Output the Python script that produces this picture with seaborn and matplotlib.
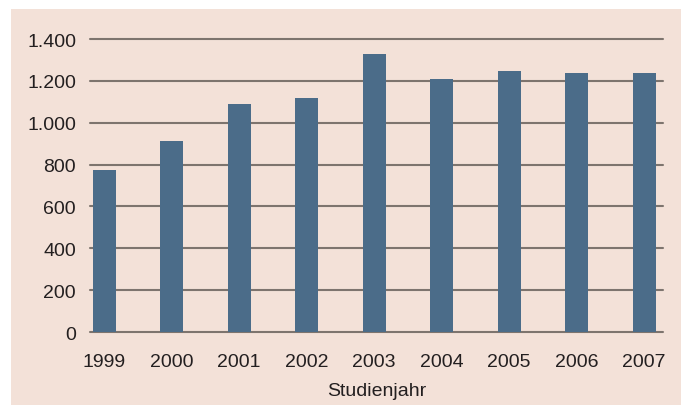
import matplotlib
matplotlib.use('Agg')
import matplotlib.pyplot as plt
import matplotlib.ticker as mticker
from matplotlib.patches import Rectangle
import seaborn as sns
import pandas as pd

# Studienjahr and number of students
years = ['1999', '2000', '2001', '2002', '2003', '2004', '2005', '2006', '2007']
counts = [775, 915, 1090, 1120, 1326, 1210, 1247, 1237, 1237]
y_ticks = [0, 200, 400, 600, 800, 1000, 1200, 1400]

bar_color = '#4b6c89'
panel_color = '#f3e1d8'
grid_color = '#7d746e'
text_color = '#231f20'


def main():
    sns.set_style('white')
    plt.rcParams['font.family'] = ['Liberation Sans', 'DejaVu Sans']

    df = pd.DataFrame({'Studienjahr': years, 'Anzahl': counts})

    fig = plt.figure(figsize=(6.81, 4.06), dpi=100, facecolor='white')
    # peach panel behind the whole chart (negative zorder so axes draw on top)
    fig.patches.append(Rectangle((11 / 681, 0), 1, 1 - 10 / 406,
                                 transform=fig.transFigure, facecolor=panel_color,
                                 edgecolor='none', zorder=-1))

    ax = fig.add_axes([90 / 681, 1 - 333 / 406, (663 - 90) / 681, (333 - 40) / 406])
    ax.set_facecolor('none')

    sns.barplot(data=df, x='Studienjahr', y='Anzahl', color=bar_color,
                width=0.34, saturation=1, linewidth=0, ax=ax, zorder=3)

    ax.set_ylim(0, 1400)
    ax.set_xlim(-0.21, 8.28)
    ax.set_yticks(y_ticks)
    ax.yaxis.set_major_formatter(mticker.FuncFormatter(
        lambda v, pos: f'{int(v):,}'.replace(',', '.')))
    ax.yaxis.grid(True, color=grid_color, linewidth=1.5, zorder=0)
    ax.set_axisbelow(True)
    # keep the full thickness of the lines at 0 and 1.400
    for line in ax.get_ygridlines():
        line.set_clip_on(False)

    for side in ['top', 'right', 'left', 'bottom']:
        ax.spines[side].set_visible(False)

    ax.tick_params(axis='y', length=0, pad=10, labelsize=14, labelcolor=text_color)
    ax.tick_params(axis='x', length=0, pad=15, labelsize=14, labelcolor=text_color)
    ax.set_ylabel('')
    ax.set_xlabel('Studienjahr', fontsize=14, color=text_color, labelpad=9)

    fig.savefig('out.png', dpi=100, facecolor='white')


if __name__ == '__main__':
    main()
